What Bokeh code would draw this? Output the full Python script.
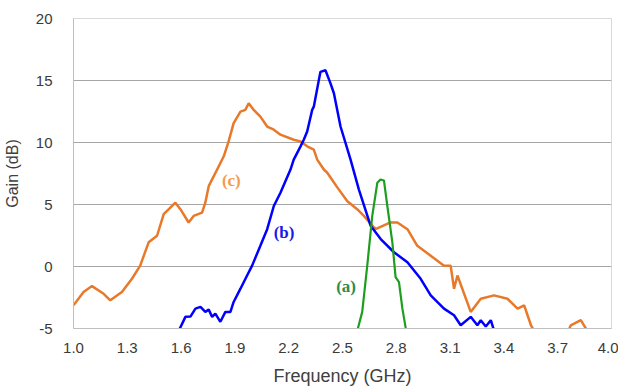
from bokeh.plotting import figure
from bokeh.models import Range1d, FixedTicker, Label, CustomJSTickFormatter
from bokeh.embed import file_html
from bokeh.resources import INLINE

# Curve (c) - orange
c_freq = [1.000, 1.056, 1.103, 1.168, 1.205, 1.270, 1.326, 1.372, 1.419, 1.466, 1.503, 1.540,
          1.568, 1.596, 1.642, 1.670, 1.717, 1.735, 1.754, 1.801, 1.838, 1.865, 1.893, 1.931,
          1.958, 1.977, 2.005, 2.042, 2.080, 2.117, 2.154, 2.228, 2.266, 2.303, 2.340, 2.359,
          2.396, 2.415, 2.471, 2.527, 2.582, 2.619, 2.684, 2.768, 2.806, 2.862, 2.917, 2.992,
          3.066, 3.103, 3.122, 3.141, 3.215, 3.271, 3.345, 3.420, 3.476, 3.513, 3.551, 3.607,
          3.720, 3.773, 3.829, 3.857, 3.885, 3.940]
c_gain = [-3.13, -2.06, -1.58, -2.20, -2.73, -2.06, -0.99, 0.07, 1.95, 2.48, 4.22, 4.75,
          5.15, 4.62, 3.55, 4.08, 4.35, 5.15, 6.48, 7.82, 8.89, 10.09, 11.56, 12.49,
          12.63, 13.17, 12.63, 12.09, 11.29, 11.03, 10.63, 10.22, 10.09, 9.69, 9.42, 8.62,
          7.82, 7.56, 6.38, 5.26, 4.62, 4.08, 3.01, 3.55, 3.55, 3.01, 1.67, 0.87,
          0.07, 0.07, -1.79, -0.73, -3.66, -2.60, -2.33, -2.60, -3.40, -3.13, -4.74, -6.2,
          -6.5, -4.74, -4.33, -5.0, -5.8, -6.3]

# Curve (b) - blue
b_freq = [1.580, 1.624, 1.652, 1.680, 1.708, 1.735, 1.754, 1.773, 1.791, 1.819, 1.847, 1.875,
          1.893, 1.931, 1.968, 1.996, 2.042, 2.080, 2.117, 2.154, 2.210, 2.228, 2.266, 2.284,
          2.303, 2.331, 2.340, 2.368, 2.377, 2.405, 2.433, 2.452, 2.489, 2.545, 2.591, 2.657,
          2.713, 2.787, 2.862, 2.936, 2.992, 3.066, 3.122, 3.159, 3.215, 3.252, 3.271, 3.299,
          3.327, 3.350]
b_gain = [-5.4, -4.06, -4.04, -3.40, -3.26, -3.66, -3.48, -4.06, -3.80, -4.46, -3.66, -3.66,
          -2.86, -1.79, -0.73, 0.07, 1.67, 3.01, 4.88, 5.95, 7.82, 8.62, 9.69, 10.22,
          10.89, 12.63, 12.89, 15.03, 15.70, 15.83, 14.77, 13.97, 11.29, 8.62, 6.22, 3.28,
          2.21, 1.15, 0.34, -0.99, -2.33, -3.40, -3.93, -4.74, -4.06, -4.74, -4.33, -4.84,
          -4.33, -5.4]

# Curve (a) - green
a_freq = [2.575, 2.610, 2.638, 2.666, 2.694, 2.712, 2.731, 2.750, 2.778, 2.796, 2.815, 2.834, 2.860]
a_gain = [-5.6, -3.66, 0.07, 4.08, 6.75, 7.02, 6.94, 4.88, 1.95, -0.86, -1.26, -3.40, -5.6]

x_ticks = [1.0, 1.3, 1.6, 1.9, 2.2, 2.5, 2.8, 3.1, 3.4, 3.7, 4.0]
y_ticks = [-5, 0, 5, 10, 15, 20]

p = figure(width=618, height=388, output_backend="svg", toolbar_location=None,
           x_range=Range1d(1.0, 4.0), y_range=Range1d(-5, 20),
           min_border_left=73, min_border_right=7, min_border_top=18, min_border_bottom=58)

p.background_fill_color = "white"
p.border_fill_color = "white"
p.outline_line_color = "#D9D9D9"
p.outline_line_width = 1

p.xgrid.grid_line_color = None
p.ygrid.grid_line_color = "#A6A6A6"
p.ygrid.grid_line_width = 1

p.xaxis.ticker = FixedTicker(ticks=x_ticks)
p.yaxis.ticker = FixedTicker(ticks=y_ticks)
p.xaxis.formatter = CustomJSTickFormatter(code="return tick.toFixed(1);")
p.yaxis.formatter = CustomJSTickFormatter(code="return String(Math.round(tick));")

for ax in (p.xaxis[0], p.yaxis[0]):
    ax.axis_line_color = "#BFBFBF"
    ax.major_tick_line_color = None
    ax.minor_tick_line_color = None
    ax.major_label_text_font = "Liberation Sans"
    ax.major_label_text_font_size = "15px"
    ax.major_label_text_color = "#3A3A3A"
    ax.axis_label_text_font = "Liberation Sans"
    ax.axis_label_text_font_style = "normal"
    ax.axis_label_text_color = "#404040"

p.xaxis.axis_label = "Frequency (GHz)"
p.yaxis.axis_label = "Gain (dB)"
p.xaxis.axis_label_text_font_size = "18px"
p.yaxis.axis_label_text_font_size = "16px"
p.xaxis.major_label_standoff = 8
p.yaxis.major_label_standoff = 15
p.xaxis.axis_label_standoff = 10
p.yaxis.axis_label_standoff = 12

p.line(c_freq, c_gain, line_color="#E8792A", line_width=2.5)
p.line(b_freq, b_gain, line_color="#0000FF", line_width=2.5)
p.line(a_freq, a_gain, line_color="#1E9E1E", line_width=2.2)

label_style = dict(text_font="Liberation Serif", text_font_style="bold", text_font_size="17px",
                   text_align="center", text_baseline="middle")
p.add_layout(Label(x=1.880, y=6.94, text="(c)", text_color="#F59A4E", **label_style))
p.add_layout(Label(x=2.174, y=2.77, text="(b)", text_color="#1A1AE6", **label_style))
p.add_layout(Label(x=2.520, y=-1.59, text="(a)", text_color="#2E8B4A", **label_style))

open("out.html", "w").write(file_html(p, INLINE))
